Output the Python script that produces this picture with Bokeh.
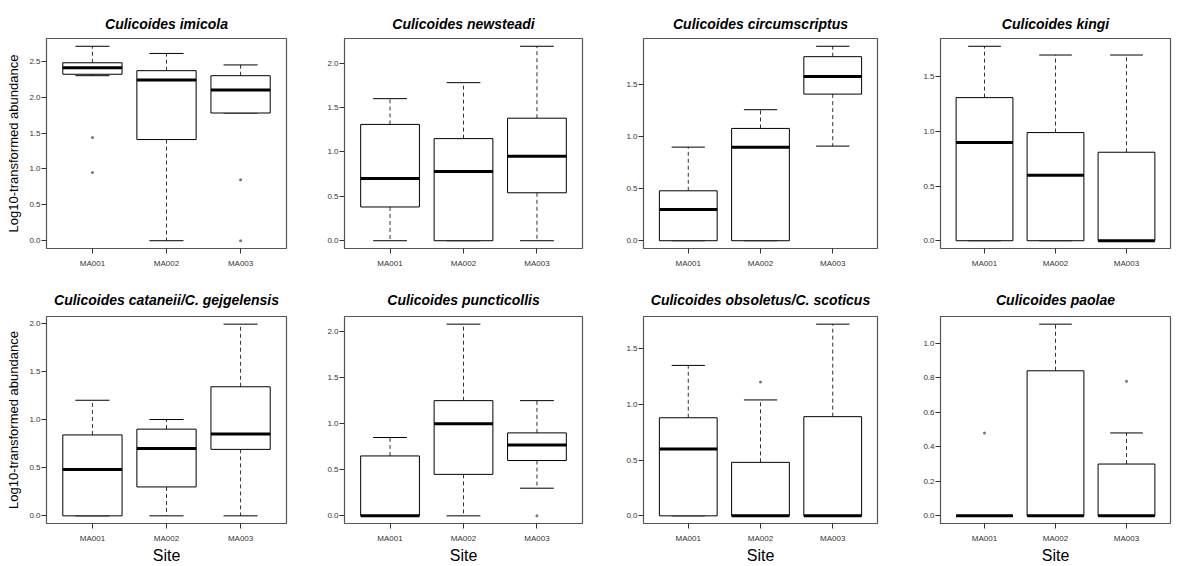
import numpy as np
from bokeh.plotting import figure
from bokeh.layouts import gridplot
from bokeh.models import Range1d, FixedTicker, PrintfTickFormatter
from bokeh.embed import file_html
from bokeh.resources import INLINE

species = [
    "Culicoides imicola",
    "Culicoides newsteadi",
    "Culicoides circumscriptus",
    "Culicoides kingi",
    "Culicoides cataneii/C. gejgelensis",
    "Culicoides puncticollis",
    "Culicoides obsoletus/C. scoticus",
    "Culicoides paolae",
]
sites = ["MA001", "MA002", "MA003"]

# three values per species (MA001, MA002, MA003)
whisker_low = [
    2.30, 0.00, 1.78,
    0.00, 0.00, 0.00,
    0.00, 0.00, 0.91,
    0.00, 0.00, 0.00,
    0.00, 0.00, 0.00,
    0.00, 0.00, 0.30,
    0.00, 0.00, 0.00,
    0.00, 0.00, 0.00,
]
q1 = [
    2.32, 1.41, 1.78,
    0.38, 0.00, 0.54,
    0.00, 0.00, 1.41,
    0.00, 0.00, 0.00,
    0.00, 0.30, 0.69,
    0.00, 0.45, 0.60,
    0.00, 0.00, 0.00,
    0.00, 0.00, 0.00,
]
median = [
    2.41, 2.24, 2.10,
    0.70, 0.78, 0.95,
    0.30, 0.90, 1.58,
    0.90, 0.60, 0.00,
    0.48, 0.70, 0.85,
    0.00, 1.00, 0.77,
    0.60, 0.00, 0.00,
    0.00, 0.00, 0.00,
]
q3 = [
    2.48, 2.37, 2.30,
    1.31, 1.15, 1.38,
    0.48, 1.08, 1.77,
    1.31, 0.99, 0.81,
    0.84, 0.90, 1.34,
    0.65, 1.25, 0.90,
    0.88, 0.48, 0.89,
    0.00, 0.84, 0.30,
]
whisker_high = [
    2.71, 2.61, 2.45,
    1.60, 1.78, 2.19,
    0.90, 1.26, 1.87,
    1.78, 1.70, 1.70,
    1.20, 1.00, 1.99,
    0.85, 2.08, 1.25,
    1.35, 1.04, 1.72,
    0.00, 1.11, 0.48,
]
# outliers: species index, site index, value
outlier_species = [0, 0, 0, 0, 5, 6, 7, 7]
outlier_site = [0, 0, 2, 2, 2, 1, 0, 2]
outlier_value = [1.44, 0.95, 0.85, 0.00, 0.00, 1.20, 0.48, 0.78]

FONT = "Liberation Sans"
col_w = [292, 295, 295, 292]
col_bl = [46, 52, 56, 58]
col_br = [6, 5, 5, 4]
row_h = [280, 286]
row_bt = [38, 35]
row_bb = [32, 41]
row_title_standoff = [13, 18]

BOX_HALF = 0.4
CAP_HALF = 0.23


def make_panel(k):
    r, c = divmod(k, 4)
    sl = slice(3 * k, 3 * k + 3)
    xs = np.arange(1, len(sites) + 1, dtype=float)
    lo_w = np.array(whisker_low[sl])
    b1 = np.array(q1[sl])
    med = np.array(median[sl])
    b3 = np.array(q3[sl])
    hi_w = np.array(whisker_high[sl])
    ox = [outlier_site[i] + 1 for i in range(len(outlier_value)) if outlier_species[i] == k]
    oy = [outlier_value[i] for i in range(len(outlier_value)) if outlier_species[i] == k]

    vals = list(lo_w) + list(hi_w) + oy
    vmin, vmax = min(vals), max(vals)
    pad = 0.04 * (vmax - vmin)
    step = 0.2 if vmax < 1.4 else 0.5
    ticks = [float(t) for t in np.round(np.arange(0, vmax + pad + 1e-9, step), 2)]

    p = figure(
        width=col_w[c], height=row_h[r],
        x_range=Range1d(0.38, 3.62), y_range=Range1d(vmin - pad, vmax + pad),
        output_backend="svg", toolbar_location=None,
        min_border_left=col_bl[c], min_border_right=col_br[c],
        min_border_top=row_bt[r], min_border_bottom=row_bb[r],
    )
    p.title.text = species[k]
    p.title.align = "center"
    p.title.text_font = FONT
    p.title.text_font_style = "bold italic"
    p.title.text_font_size = "14px"
    p.title.text_color = "black"
    p.title.standoff = row_title_standoff[r]
    p.xgrid.visible = False
    p.ygrid.visible = False
    p.outline_line_color = "#555555"
    p.outline_line_width = 1.2
    p.background_fill_color = "white"
    p.border_fill_color = "white"

    for ax in (p.xaxis[0], p.yaxis[0]):
        ax.axis_line_color = None
        ax.major_tick_out = 5
        ax.major_tick_in = 0
        ax.minor_tick_out = 0
        ax.minor_tick_in = 0
        ax.major_tick_line_color = "#333333"
        ax.major_label_text_font = FONT
        ax.major_label_text_font_size = "8px"
        ax.major_label_text_color = "#333333"
        ax.axis_label_text_font = FONT
        ax.axis_label_text_font_style = "normal"
        ax.axis_label_text_color = "black"

    p.xaxis.ticker = FixedTicker(ticks=list(xs))
    p.xaxis.major_label_overrides = {float(x): s for x, s in zip(xs, sites)}
    p.xaxis.major_label_standoff = 5
    p.yaxis.ticker = FixedTicker(ticks=ticks)
    p.yaxis.formatter = PrintfTickFormatter(format="%.1f")
    p.yaxis.major_label_standoff = 1

    if c == 0:
        p.yaxis.axis_label = "Log10-transformed abundance"
        p.yaxis.axis_label_text_font_size = "13px"
        p.yaxis.axis_label_standoff = 5
    if r == 1:
        p.xaxis.axis_label = "Site"
        p.xaxis.axis_label_text_font_size = "16px"
        p.xaxis.axis_label_standoff = 1

    # whiskers
    p.segment(x0=xs, y0=b3, x1=xs, y1=hi_w, line_color="#333333", line_width=1, line_dash="4 3")
    p.segment(x0=xs, y0=b1, x1=xs, y1=lo_w, line_color="#333333", line_width=1, line_dash="4 3")
    # staples
    p.segment(x0=xs - CAP_HALF, y0=hi_w, x1=xs + CAP_HALF, y1=hi_w, line_color="black", line_width=1)
    p.segment(x0=xs - CAP_HALF, y0=lo_w, x1=xs + CAP_HALF, y1=lo_w, line_color="black", line_width=1)
    # boxes
    p.quad(left=xs - BOX_HALF, right=xs + BOX_HALF, bottom=b1, top=b3,
           fill_color="white", line_color="black", line_width=1)
    # medians
    p.segment(x0=xs - BOX_HALF, y0=med, x1=xs + BOX_HALF, y1=med, line_color="black", line_width=3)
    # outliers
    if ox:
        p.scatter(x=ox, y=oy, size=3, fill_color="#777777", line_color=None)
    return p


panels = [make_panel(k) for k in range(8)]
grid = gridplot([panels[:4], panels[4:]], toolbar_location=None)

open("out.html", "w").write(file_html(grid, INLINE))
